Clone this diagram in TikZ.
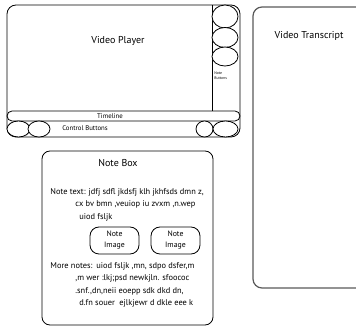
\documentclass[tikz,border=0pt]{standalone}
\usepackage{fontspec}
\setmainfont{PT Sans}
\usetikzlibrary{shapes.geometric}

\begin{document}
\begin{tikzpicture}[x=1pt,y=-1pt,
	line width=0.8pt,
	panel/.style={
		draw, % General options for the big boxes
		rounded corners=9pt,
		inner sep=0pt,
	},
	btn/.style={draw, ellipse, inner sep=0pt, fill=white},
	lbl/.style={font=\fontsize{10}{12}\selectfont},
	small/.style={font=\fontsize{6.8}{8}\selectfont},
	tiny/.style={font=\fontsize{3.8}{5.4}\selectfont, align=left, inner sep=0pt},
	txt/.style={font=\fontsize{8.4}{12.4}\selectfont, align=left, anchor=north west, inner sep=0pt},
	imgbox/.style={draw, rounded corners=9pt, minimum width=49pt, minimum height=27pt,
		inner sep=0pt, align=center, font=\fontsize{7.8}{11}\selectfont},
]
	\useasboundingbox (0,0) rectangle (356,328);
	\clip (0,0) rectangle (356,328);

	% video player
	\node[panel, minimum width=233pt, minimum height=132pt] (player) at (123.5,71) {};
	\node[lbl] (playerlbl) at (118,41) {Video Player};
	\draw (212,5) -- (212,111);
	\node[btn, minimum width=26pt, minimum height=23pt] (nb1) at (225,16.5) {};
	\node[btn, minimum width=26pt, minimum height=20pt] (nb2) at (225,37.5) {};
	\node[btn, minimum width=26pt, minimum height=19pt] (nb3) at (225,56.5) {};
	\node[tiny, anchor=north west] (nblbl) at (214,71) {Note\\Buttons};

	% timeline and control row
	\node[draw, rounded corners=5pt, minimum width=233pt, minimum height=10pt, inner sep=0pt] (timeline) at (123.5,116) {};
	\node[small] (timelbl) at (110,116) {Timeline};
	\node[btn, minimum width=23pt, minimum height=16pt] (cb1) at (18.5,129) {};
	\node[btn, minimum width=22pt, minimum height=16pt] (cb2) at (39,129) {};
	\node[btn, minimum width=17pt, minimum height=16pt] (cb3) at (204.5,129) {};
	\node[btn, minimum width=25pt, minimum height=16pt] (cb4) at (225.5,129) {};
	\node[small] (ctrllbl) at (85,128.5) {Control Buttons};

	% note box
	\node[panel, rounded corners=8pt, minimum width=171pt, minimum height=174pt] (notebox) at (127.5,238) {};
	\node[font=\fontsize{10}{12}\selectfont] (noteboxlbl) at (118,163) {Note Box};
	\node[txt] (notetext) at (50,188) {Note text: jdfj sdfl jkdsfj klh jkhfsds dmn z,\\
		\hspace*{25pt}cx bv bmn ,veuiop iu zvxm ,n.wep\\
		\hspace*{29pt}uiod fsljk};
	\node[imgbox] (img1) at (114.5,240.5) {Note\\Image};
	\node[imgbox] (img2) at (175.5,240.5) {Note\\Image};
	\node[txt] (moretext) at (50,262) {\makebox[46pt][l]{More notes:}uiod fsljk ,mn, sdpo dsfer,m\\
		\hspace*{25pt},m wer :lkj;psd newkjln. sfoococ\\
		\hspace*{25pt}.snf.,dn,neii eoepp sdk dkd dn,\\
		\hspace*{29pt}d.fn souer\ \ ejlkjewr d dkle eee k};

	% transcript
	\node[panel, draw=black!65, line width=1.2pt, minimum width=130pt, minimum height=281pt] (transcript) at (318,147.5) {};
	\node[lbl, anchor=west] (translbl) at (271,36) {Video Transcript};
\end{tikzpicture}
\end{document}
